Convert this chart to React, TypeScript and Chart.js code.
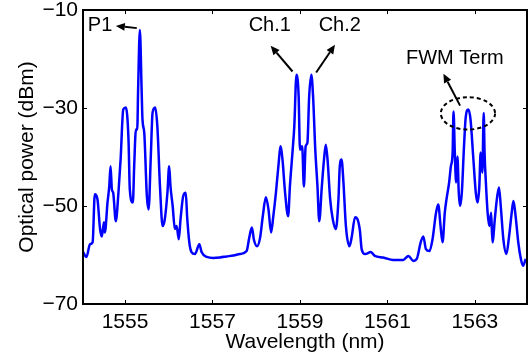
import React, { useEffect, useRef } from "react";
import { Chart, registerables } from "chart.js";

Chart.register(...registerables);

const wavelength = [
  1554.04, 1554.12, 1554.2, 1554.26, 1554.31, 1554.37, 1554.43, 1554.47, 1554.52, 1554.54,
  1554.6, 1554.64, 1554.67, 1554.7, 1554.73, 1554.79, 1554.85, 1554.9, 1554.96, 1555.02,
  1555.08, 1555.11, 1555.18, 1555.21, 1555.25, 1555.28, 1555.3, 1555.34, 1555.38, 1555.4,
  1555.44, 1555.5, 1555.54, 1555.59, 1555.63, 1555.69, 1555.74, 1555.8, 1555.86, 1555.91,
  1555.97, 1556.01, 1556.04, 1556.09, 1556.14, 1556.18, 1556.23, 1556.27, 1556.33, 1556.39,
  1556.42, 1556.47, 1556.52, 1556.6, 1556.7, 1556.75, 1556.87, 1557.02, 1557.17, 1557.32,
  1557.48, 1557.63, 1557.78, 1557.84, 1557.9, 1557.95, 1558.02, 1558.09, 1558.15, 1558.22,
  1558.28, 1558.34, 1558.39, 1558.45, 1558.5, 1558.56, 1558.6, 1558.66, 1558.73, 1558.77,
  1558.83, 1558.87, 1558.92, 1558.97, 1559.0, 1559.05, 1559.09, 1559.13, 1559.17, 1559.21,
  1559.26, 1559.3, 1559.35, 1559.4, 1559.44, 1559.5, 1559.55, 1559.59, 1559.63, 1559.69,
  1559.75, 1559.82, 1559.88, 1559.91, 1559.95, 1559.99, 1560.05, 1560.13, 1560.18, 1560.26,
  1560.31, 1560.37, 1560.41, 1560.49, 1560.62, 1560.71, 1560.9, 1561.13, 1561.36, 1561.48,
  1561.59, 1561.67, 1561.76, 1561.82, 1561.88, 1561.96, 1562.03, 1562.11, 1562.16, 1562.22,
  1562.26, 1562.31, 1562.35, 1562.41, 1562.45, 1562.49, 1562.51, 1562.54, 1562.57, 1562.6,
  1562.63, 1562.66, 1562.7, 1562.75, 1562.79, 1562.85, 1562.9, 1562.96, 1563.02, 1563.06,
  1563.1, 1563.13, 1563.17, 1563.2, 1563.22, 1563.25, 1563.29, 1563.33, 1563.37, 1563.4,
  1563.46, 1563.51, 1563.55, 1563.59, 1563.65, 1563.72, 1563.78, 1563.84, 1563.88, 1563.93,
  1563.99, 1564.05, 1564.1, 1564.16,
];

const power = [
  -59.4, -60.4, -57.8, -57.4, -47.6, -48.6, -54.7, -56.2, -53.3, -55.4,
  -49.3, -46.0, -41.9, -46.6, -47.3, -53.1, -47.3, -40.5, -30.3, -29.9,
  -36.4, -46.6, -49.3, -41.9, -34.4, -34.4, -26.3, -14.1, -26.3, -32.4,
  -35.0, -48.0, -50.7, -39.9, -31.0, -29.9, -33.8, -46.0, -54.1, -52.7,
  -47.3, -41.9, -46.0, -50.0, -54.7, -54.1, -56.8, -52.7, -48.0, -47.3,
  -52.1, -57.4, -59.4, -59.8, -57.8, -59.4, -60.4, -60.6, -60.5, -60.3,
  -60.1, -59.8, -59.2, -56.5, -54.4, -57.0, -58.2, -56.4, -52.1, -48.2,
  -50.7, -55.4, -52.1, -47.3, -42.5, -37.8, -40.5, -47.3, -52.1, -46.0,
  -38.9, -33.8, -23.2, -27.7, -38.5, -37.8, -46.0, -37.8, -37.1, -27.7,
  -23.2, -27.7, -38.5, -46.0, -53.1, -46.0, -40.5, -37.5, -40.5, -48.6,
  -52.7, -54.7, -48.6, -41.9, -40.5, -44.6, -54.1, -58.2, -56.5, -52.3,
  -52.6, -55.0, -58.8, -59.8, -59.4, -60.2, -60.5, -61.0, -61.0, -60.2,
  -61.2, -60.8, -57.4, -56.2, -58.8, -59.2, -56.8, -51.4, -49.7, -54.7,
  -57.4, -51.4, -48.6, -45.2, -41.9, -39.1, -30.7, -39.1, -45.2, -39.9,
  -47.3, -50.0, -47.3, -37.8, -31.8, -30.3, -32.4, -39.9, -47.3, -49.3,
  -46.0, -39.1, -43.2, -31.0, -39.1, -45.2, -51.4, -54.1, -51.4, -57.4,
  -52.1, -48.0, -46.2, -50.0, -56.8, -59.8, -56.2, -51.4, -49.0, -52.1,
  -57.4, -60.8, -62.2, -60.8,
];

const xTicks = [1555, 1557, 1559, 1561, 1563];
const yTicks = [-70, -50, -30, -10];

// annotation labels: [text, x, y, align]
const labels: [string, number, number, CanvasTextAlign][] = [
  ["P1", 1554.15, -13.15, "left"],
  ["Ch.1", 1558.31, -13.15, "center"],
  ["Ch.2", 1559.91, -13.15, "center"],
  ["FWM Term", 1562.54, -19.86, "center"],
];
// arrows: [x tail, y tail, x head, y head]
const arrows: [number, number, number, number][] = [
  [1555.27, -13.7, 1554.79, -13.25],
  [1558.83, -22.55, 1558.33, -17.32],
  [1559.37, -22.75, 1559.8, -17.1],
  [1562.66, -29.52, 1562.28, -23.0],
];
// ellipse: centre x, centre y, radius x (nm), radius y (dB)
const ellipse = [1562.84, -31.1, 0.62, 3.3];

const FONT = "Liberation Sans, Arial, Helvetica, sans-serif";

const framePlugin = {
  id: "frame",
  afterDatasetsDraw(chart: any) {
    const { ctx, chartArea: a, scales } = chart;
    const xs = scales.x;
    const ys = scales.y;
    ctx.save();
    ctx.strokeStyle = "#000";
    ctx.lineWidth = 2;
    ctx.strokeRect(a.left, a.top, a.right - a.left, a.bottom - a.top);
    const tl = 4;
    ctx.beginPath();
    for (const v of xTicks) {
      const px = Math.round(xs.getPixelForValue(v)) + 0.5;
      ctx.moveTo(px, a.bottom);
      ctx.lineTo(px, a.bottom - tl);
      ctx.moveTo(px, a.top);
      ctx.lineTo(px, a.top + tl);
    }
    for (const v of yTicks) {
      const py = Math.round(ys.getPixelForValue(v)) + 0.5;
      ctx.moveTo(a.left, py);
      ctx.lineTo(a.left + tl, py);
      ctx.moveTo(a.right, py);
      ctx.lineTo(a.right - tl, py);
    }
    ctx.lineWidth = 1;
    ctx.stroke();

    // annotations
    ctx.fillStyle = "#000";
    ctx.font = `20px ${FONT}`;
    ctx.textBaseline = "middle";
    for (const [t, x, y, al] of labels) {
      ctx.textAlign = al;
      ctx.fillText(t, xs.getPixelForValue(x), ys.getPixelForValue(y));
    }
    ctx.lineWidth = 2;
    for (const [x1, y1, x2, y2] of arrows) {
      const ax = xs.getPixelForValue(x1);
      const ay = ys.getPixelForValue(y1);
      const bx = xs.getPixelForValue(x2);
      const by = ys.getPixelForValue(y2);
      const ang = Math.atan2(by - ay, bx - ax);
      const hl = 9;
      const hw = 4;
      const baseX = bx - hl * Math.cos(ang);
      const baseY = by - hl * Math.sin(ang);
      ctx.beginPath();
      ctx.moveTo(ax, ay);
      ctx.lineTo(baseX, baseY);
      ctx.stroke();
      ctx.beginPath();
      ctx.moveTo(bx, by);
      ctx.lineTo(baseX + hw * Math.sin(ang), baseY - hw * Math.cos(ang));
      ctx.lineTo(baseX - hw * Math.sin(ang), baseY + hw * Math.cos(ang));
      ctx.closePath();
      ctx.fill();
    }
    const [ex, ey, erx, ery] = ellipse;
    const cx = xs.getPixelForValue(ex);
    const cy = ys.getPixelForValue(ey);
    const rx = Math.abs(xs.getPixelForValue(ex + erx) - cx);
    const ry = Math.abs(ys.getPixelForValue(ey + ery) - cy);
    ctx.beginPath();
    ctx.setLineDash([4, 3]);
    ctx.ellipse(cx, cy, rx, ry, 0, 0, Math.PI * 2);
    ctx.stroke();
    ctx.restore();
  },
};

export default function App() {
  const ref = useRef<HTMLCanvasElement>(null);
  useEffect(() => {
    if (!ref.current) return;
    const chart = new Chart(ref.current, {
      type: "line",
      data: {
        datasets: [
          {
            data: wavelength.map((w, i) => ({ x: w, y: power[i] })),
            borderColor: "#0000FF",
            borderWidth: 2.5,
            pointRadius: 0,
            cubicInterpolationMode: "monotone",
            fill: false,
          },
        ],
      },
      options: {
        responsive: false,
        animation: false,
        events: [],
        layout: { padding: { top: 10, right: 4, left: 0, bottom: 0 } },
        plugins: { legend: { display: false }, tooltip: { enabled: false } },
        scales: {
          x: {
            type: "linear",
            min: 1554.04,
            max: 1564.19,
            grid: { display: false, drawTicks: false },
            border: { display: false },
            afterBuildTicks: (s: any) => {
              s.ticks = xTicks.map((v) => ({ value: v }));
            },
            afterFit: (s: any) => {
              s.height = 54;
              s.paddingLeft = 0;
              s.paddingRight = 0;
            },
            ticks: {
              color: "#000",
              padding: 6,
              maxRotation: 0,
              font: { family: FONT, size: 21 },
              callback: (v: any) => String(v),
            },
            title: {
              display: true,
              text: "Wavelength (nm)",
              color: "#000",
              font: { family: FONT, size: 21, lineHeight: 1 },
              padding: { top: 0, bottom: 5 },
            },
          },
          y: {
            type: "linear",
            min: -70,
            max: -10,
            grid: { display: false, drawTicks: false },
            border: { display: false },
            afterBuildTicks: (s: any) => {
              s.ticks = yTicks.map((v) => ({ value: v }));
            },
            afterFit: (s: any) => {
              s.width = 83;
              s.paddingTop = 0;
              s.paddingBottom = 0;
            },
            ticks: {
              color: "#000",
              padding: 5,
              font: { family: FONT, size: 21 },
              callback: (v: any) => (v < 0 ? "\u2212" + Math.abs(v) : String(v)),
            },
            title: {
              display: true,
              text: "Optical power (dBm)",
              color: "#000",
              font: { family: FONT, size: 21, lineHeight: 1 },
              padding: { top: 17, bottom: 0 },
            },
          },
        },
      },
      plugins: [framePlugin],
    });
    return () => chart.destroy();
  }, []);
  return (
    <div style={{ position: "fixed", left: 0, top: 0, width: 531, height: 358, background: "#fff" }}>
      <canvas ref={ref} width={531} height={358} style={{ display: "block" }} />
    </div>
  );
}
